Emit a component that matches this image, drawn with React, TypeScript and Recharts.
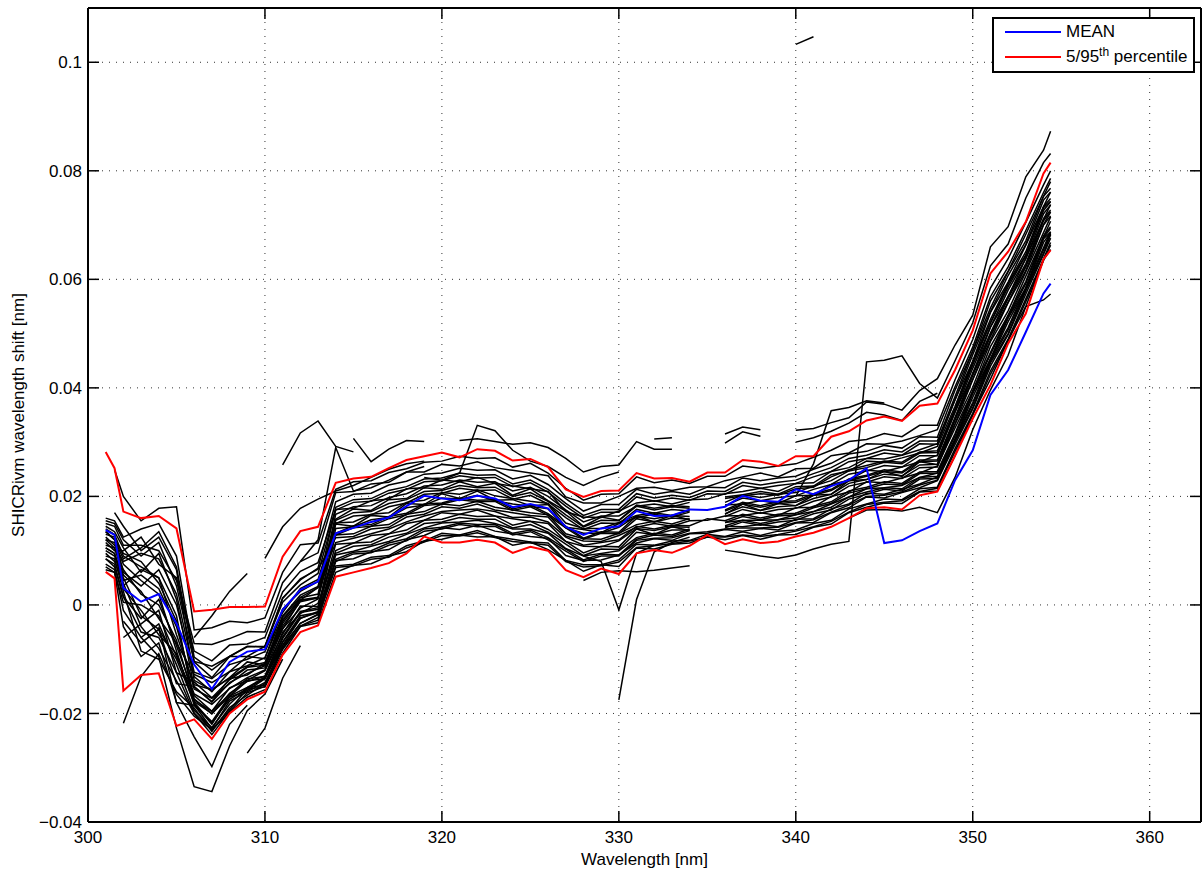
import React from 'react';
import { CartesianGrid, Line, LineChart, XAxis, YAxis } from 'recharts';

// all shifts are in 1e-3 nm, converted to nm when the table is built
const wavelengths = [301, 301.5, 302, 303, 304, 305, 306, 307, 308, 309, 310, 311, 312, 313, 314, 315, 316, 317, 318, 319, 320, 321, 322, 323, 324, 325, 326, 327, 328, 329, 330, 331, 332, 333, 334, 335, 336, 337, 338, 339, 340, 341, 342, 343, 344, 345, 346, 347, 348, 349, 350, 351, 352, 353, 354, 354.4];

const meanShift = [13.8, 12.9, 3.1, 0.6, 2.0, -3.4, -11.0, -15.5, -10.5, -8.6, -8.2, -0.9, 2.8, 4.3, 13.2, 14.2, 15.3, 16.1, 18.2, 20.1, 19.6, 19.3, 20.1, 19.6, 18.0, 18.6, 17.8, 14.4, 12.9, 14.1, 14.5, 17.3, 16.4, 16.5, 17.6, 17.5, 18.1, 20.1, 19.2, 19.0, 21.3, 20.4, 21.9, 23.0, 25.2, 11.4, 11.9, 13.6, 15.0, 23.0, 28.5, 38.7, 43.3, 50.3, 57.4, 59.2];
const p95Shift = [28.2, 25.2, 17.2, 16.0, 16.4, 14.1, -1.2, -0.9, -0.4, -0.4, -0.3, 8.9, 13.6, 14.4, 22.5, 23.3, 23.6, 25.2, 26.7, 27.4, 28.1, 27.2, 28.7, 28.4, 26.6, 26.9, 25.4, 21.3, 19.9, 21.0, 21.1, 24.3, 23.3, 23.4, 22.7, 24.4, 24.4, 26.7, 26.4, 25.6, 27.4, 27.4, 31.0, 32.0, 34.0, 34.7, 33.9, 36.7, 37.1, 43.3, 50.6, 61.1, 65.1, 70.6, 79.5, 81.5];
const p5Shift = [6.1, 4.9, -15.8, -12.9, -12.6, -22.3, -21.1, -24.7, -20.0, -17.4, -16.0, -9.2, -5.0, -3.8, 5.2, 6.0, 6.8, 7.7, 9.5, 12.6, 11.5, 11.5, 12.0, 11.5, 9.6, 10.7, 10.0, 6.4, 5.1, 6.7, 5.7, 9.5, 10.1, 9.6, 10.9, 12.9, 11.2, 12.1, 11.4, 11.7, 12.6, 13.3, 14.4, 16.0, 17.8, 18.0, 17.6, 20.2, 20.9, 27.5, 34.3, 40.5, 48.2, 53.7, 63.7, 65.4];

// individual spectra over the full range
const spec01 = [9.5, 8.0, 4.0, -4.0, -8.0, -14.0, -20.0, -23.9, -19.6, -16.2, -15.0, -8.9, -4.0, -3.3, 6.0, 7.3, 7.6, 9.0, 9.8, 11.8, 12.1, 12.9, 12.5, 12.6, 11.0, 11.6, 10.2, 8.2, 6.2, 7.4, 7.1, 10.5, 10.3, 11.2, 11.4, 12.5, 12.0, 12.8, 12.1, 12.9, 13.0, 14.3, 14.9, 17.0, 18.0, 18.8, 18.7, 20.8, 21.0, 27.5, 35.1, 41.6, 48.8, 55.0, 63.6, 65.5];
const spec02 = [14.0, 13.0, 9.0, 7.0, 5.0, -2.0, -18.2, -22.0, -17.0, -15.8, -13.6, -7.4, -2.5, -1.2, 8.2, 8.5, 9.8, 10.2, 12.0, 12.8, 14.2, 13.9, 14.7, 13.6, 13.1, 12.6, 12.3, 9.1, 8.2, 8.3, 9.2, 11.4, 12.2, 11.9, 13.1, 13.2, 13.9, 13.6, 14.1, 13.8, 15.1, 15.2, 17.0, 17.9, 19.9, 19.7, 20.7, 21.6, 22.9, 29.6, 36.1, 44.0, 49.8, 57.3, 64.6, 67.6];
const spec03 = [11.0, 10.5, 6.5, 2.0, 0.0, -6.5, -17.5, -19.6, -16.5, -13.6, -13.2, -5.0, -1.6, 0.3, 9.5, 10.8, 11.1, 12.5, 13.2, 15.0, 15.3, 16.1, 15.8, 15.8, 14.2, 14.8, 13.4, 11.2, 9.1, 10.3, 10.2, 13.4, 13.0, 13.8, 13.8, null, 14.6, 15.6, 15.0, 15.7, 16.0, 17.2, 18.0, 19.9, 20.8, 21.6, 21.4, 23.5, 23.7, 30.4, 38.3, 45.2, 52.2, 58.3, 66.8, 68.6];
const spec04 = [16.0, 15.5, 12.5, 14.0, 15.0, 9.0, -9.6, -12.0, -9.5, -7.6, -7.8, 1.2, 4.8, 6.6, 12.4, 12.6, 14.0, 14.3, 16.2, 16.7, 18.1, 17.8, 18.6, 17.5, 17.0, 16.5, 16.2, 12.7, 11.8, 11.7, 12.8, 14.3, 15.0, 14.5, 15.5, 15.6, 16.4, 16.5, 17.0, 16.5, 17.9, 18.0, 20.0, 20.8, 22.7, 22.5, 23.4, 24.3, 25.6, 32.6, 39.3, 47.6, 53.3, 60.6, 67.8, 70.7];
const spec05 = [10.0, 9.0, 4.5, 5.5, 3.0, -4.0, -15.5, -17.2, -14.5, -12.0, -11.6, -3.4, 0.9, 1.4, 12.9, 14.2, 14.5, 15.9, 16.6, 18.3, 18.6, 19.4, 19.0, 19.1, 17.4, 18.1, 16.5, 14.2, 12.1, 13.2, 13.1, 15.9, 15.3, 16.0, 15.8, null, 16.8, 18.1, 17.4, 18.1, 18.3, 19.6, 20.4, 22.4, 23.1, 24.1, 23.8, 25.8, 25.9, 33.4, 41.5, 48.8, 55.7, 61.6, 70.0, 71.7];
const spec06 = [7.5, 6.5, -1.0, -6.0, -3.5, -11.0, -19.4, -22.6, -18.3, -15.2, -14.8, -7.8, -3.4, -1.7, 7.2, 7.5, 8.8, 9.1, 10.9, 11.8, 13.2, 12.9, 13.7, 12.6, 12.1, 11.6, 11.4, 8.2, 7.4, 7.4, 8.3, 11.2, 11.0, 11.8, 11.9, 13.0, 12.6, 13.5, 12.8, 13.6, 13.8, 15.0, 15.6, 17.7, 18.6, 19.5, 19.4, 21.4, 21.7, 28.8, 35.3, 43.1, 49.0, 56.4, 63.8, 66.8];
const spec07 = [12.5, 11.0, 8.0, 9.5, 8.5, 2.0, -12.4, -13.6, -11.0, -10.0, -8.6, -1.4, 3.0, 4.7, 15.1, 15.3, 16.7, 17.0, 18.9, 19.3, 20.7, 20.4, 21.2, 20.1, 19.6, 19.1, 18.7, 15.1, 14.1, 14.1, 15.2, 16.5, 17.0, 16.5, 17.4, null, 18.4, 18.6, 19.2, 18.7, 20.1, 20.2, 22.2, 23.0, 24.8, 24.6, 25.4, 26.4, 27.6, 35.6, 42.5, 51.2, 56.8, 63.9, 71.0, 73.8];
const spec08 = [8.5, 7.5, 1.5, -2.5, 1.0, -7.5, -16.4, -18.3, -15.4, -13.4, -12.0, -4.4, -0.6, 1.1, 15.6, 17.0, 17.2, 18.7, 19.4, 20.9, 21.1, 22.0, 21.6, 21.7, 20.0, 20.7, 19.1, 16.6, 14.4, 15.6, 15.5, 18.2, 17.5, 18.1, 17.8, null, 18.9, 20.3, 19.8, 20.4, 20.7, 21.9, 22.9, 24.7, 25.3, 26.3, 26.0, 28.0, 28.1, 36.0, 44.2, 51.9, 58.6, 64.4, 72.7, 74.3];
const spec09 = [15.0, 14.5, 11.0, 11.0, 10.0, 4.5, -8.5, -10.3, -7.4, -7.2, -6.0, 2.4, 6.2, 7.8, 17.6, 17.8, 19.2, 19.5, 21.4, 21.6, 23.0, 22.7, 23.5, 22.4, 21.9, 21.4, 20.9, 17.2, 16.2, 16.1, 17.3, 18.8, 19.2, 18.6, 19.4, 19.5, 20.5, 20.9, 21.5, 20.9, 22.4, 22.5, 24.6, 25.3, 27.0, 26.9, 27.6, 28.6, 29.7, 37.8, 44.9, 53.9, 59.5, 66.3, 73.4, 76.1];
const spec10 = [null, null, 3.0, -1.0, -5.5, -9.0, -17.8, -20.0, -16.8, -14.0, -13.6, -6.2, -1.4, -0.8, 11.2, 11.4, 12.8, 13.1, 15.0, 15.6, 17.0, 16.7, 17.5, 16.4, 15.9, 15.4, 15.0, 11.7, 10.8, 10.7, 11.8, 14.1, 13.7, 14.4, 14.3, null, 15.2, 16.3, 15.7, 16.4, 16.6, 17.9, 18.7, 20.6, 21.4, 22.3, 22.1, 24.2, 24.3, 31.2, 39.1, 46.1, 53.0, 59.2, 67.6, 69.4];
const spec11 = [13.0, 12.5, 6.0, 3.5, 6.5, 0.0, -13.2, -16.0, -12.3, -11.2, -9.7, -2.0, 1.8, 3.4, 18.0, 19.4, 19.6, 21.1, 21.8, 23.2, 23.4, 24.3, 23.9, 24.0, 22.3, 23.0, 21.3, 18.7, 16.5, 17.6, 17.6, 20.5, 19.7, 20.2, 19.8, 21.0, 20.9, 22.6, 22.1, 22.6, 23.0, 24.2, 25.3, 27.0, 27.6, 28.6, 28.2, 30.2, 30.2, 38.4, 46.8, 54.7, 61.4, 67.1, 75.3, 76.8];
const spec12 = [9.0, 8.5, 2.5, -8.5, -10.0, -16.0, -19.0, -23.3, -18.9, -16.6, -14.5, -8.2, -3.9, -2.8, 8.4, 9.7, 10.0, 11.4, 12.2, 14.0, 14.3, 15.1, 14.8, 14.8, 13.2, 13.8, 12.4, 10.3, 8.3, 9.4, 9.2, 12.1, 12.9, 12.6, 13.7, null, 14.5, 14.4, 14.8, 14.4, 15.8, 15.9, 17.7, 18.6, 20.6, 20.4, 21.3, 22.3, 23.6, 30.3, 36.9, 44.9, 50.7, 58.1, 65.4, 68.4];
const spec13 = [11.5, 10.0, 10.0, 12.5, 7.5, 5.0, -7.1, -7.3, -6.2, -4.9, -5.0, 4.1, 8.0, 9.6, 20.7, 20.9, 22.3, 22.6, 24.5, 24.5, 25.9, 25.6, 26.4, 25.3, 24.8, 24.3, 23.8, 19.9, 18.8, 18.8, 20.0, 21.5, 21.7, 21.1, 21.7, 21.8, 22.9, 23.6, 24.3, 23.6, 25.1, 25.2, 27.5, 28.0, 29.7, 29.6, 30.2, 31.2, 32.3, 40.2, 47.5, 56.8, 62.3, 69.0, 76.0, 78.6];
const spec14 = [6.5, 6.0, -4.0, -9.5, -7.0, -18.0, -18.5, -21.5, -16.8, -15.2, -13.3, -6.8, -2.0, -1.4, 14.1, 14.4, 15.7, 16.1, 17.9, 18.4, 19.7, 19.5, 20.2, 19.2, 18.6, 18.2, 17.7, 14.2, 13.2, 13.2, 14.3, 16.4, 15.9, 16.5, 16.3, null, 17.3, 18.6, 18.0, 18.7, 18.9, 20.2, 21.1, 22.9, 23.7, 24.6, 24.3, 26.4, 26.5, 34.2, 42.3, 49.7, 56.5, 62.5, 70.8, 72.5];
const spec15 = [null, 24.9, 20.0, 15.5, 17.8, 18.1, -4.6, -4.2, -3.0, -3.3, -2.4, 6.0, 11.1, 11.4, 21.3, 22.7, 22.9, 24.4, 25.1, 26.3, 26.5, 27.4, 27.0, 27.1, 25.4, 26.1, 24.3, 21.5, 19.3, 20.4, 20.5, 23.6, 22.5, 23.0, 22.4, 23.7, 23.7, 25.6, 25.2, 25.6, 26.0, 27.2, 28.5, 30.1, 30.5, 31.6, 31.0, 33.1, 33.1, 41.5, 48.9, 58.4, 63.8, 70.5, 77.4, 80.0];
const spec16 = [null, null, -6.0, -3.5, -1.0, -12.5, -14.2, -17.1, -13.8, -11.5, -11.1, -3.0, 1.3, 2.0, 16.7, 18.1, 18.3, 19.8, 20.5, 21.9, 22.1, 23.0, 22.6, 22.7, 21.0, 21.7, 20.0, 17.5, 15.3, 16.4, 16.4, 18.2, 18.6, 18.1, 18.9, null, 19.9, 20.3, 20.9, 20.4, 21.8, 21.9, 24.0, 24.7, 26.5, 26.3, 27.1, 28.0, 29.2, 36.6, 44.9, 52.6, 59.3, 65.1, 73.4, 74.9];
const spec17 = [8.5, 7.0, 1.5, -5.0, -6.0, -12.5, -19.9, -23.0, -19.3, -15.5, -15.1, -8.0, -3.9, -2.3, 6.9, 7.2, 8.4, 8.8, 10.5, 11.6, 12.8, 12.7, 13.3, 12.4, 11.7, 11.4, 11.0, 8.0, 7.0, 7.2, 7.9, 10.6, 10.9, 11.3, 11.8, 12.5, 12.5, 12.9, 12.6, 13.0, 13.6, 14.4, 15.4, 17.1, 18.5, 18.9, 19.2, 20.9, 21.5, 28.3, 35.0, 42.5, 48.7, 55.9, 63.5, 66.3];
const spec18 = [12.0, 11.5, 7.5, 4.5, 2.0, -8.5, -18.4, -22.8, -17.7, -16.0, -14.3, -7.5, -3.4, -1.8, 8.0, 9.4, 9.6, 11.0, 11.8, 13.6, 14.0, 14.8, 14.4, 14.5, 12.9, 13.5, 12.0, 9.9, 8.0, 9.0, 9.0, 11.9, 12.3, 12.4, 13.2, 13.5, 14.0, 14.2, 14.2, 14.3, 15.2, 15.7, 17.1, 18.4, 20.0, 20.2, 20.8, 22.1, 23.0, 30.1, 36.3, 44.6, 50.0, 57.9, 64.8, 68.2];
const spec19 = [10.5, 9.5, 5.0, -2.0, -4.5, -10.0, -18.0, -21.7, -17.4, -15.4, -13.5, -6.9, -2.4, -1.4, 9.2, 9.9, 10.8, 11.7, 13.0, 14.2, 15.1, 15.3, 15.6, 15.0, 14.0, 14.0, 13.2, 10.4, 9.0, 9.5, 10.0, 12.4, 13.2, 12.9, 14.0, null, 14.2, 15.3, 14.7, 15.3, 15.6, 16.8, 17.5, 19.5, 20.4, 21.3, 21.0, 23.2, 23.3, 30.6, 37.3, 45.3, 51.1, 58.5, 65.8, 68.8];
const spec20 = [13.5, 12.0, 9.5, 8.0, 4.0, -3.0, -17.3, -20.1, -16.3, -14.1, -13.1, -5.9, -1.2, -0.5, 10.0, 11.4, 11.6, 13.1, 13.8, 15.6, 15.8, 16.7, 16.3, 16.4, 14.7, 15.4, 13.9, 11.7, 9.6, 10.8, 10.7, 14.0, 13.0, 14.4, 13.7, null, 15.2, 15.6, 15.6, 15.7, 16.6, 17.2, 18.6, 19.9, 21.4, 21.6, 22.0, 23.5, 24.3, 30.5, 39.0, 45.3, 52.9, 58.4, 67.5, 68.7];
const spec21 = [null, 17.0, 14.5, 10.0, 12.5, 6.5, -13.9, -15.7, -13.4, -10.5, -11.0, -2.2, 1.4, 3.2, 11.5, 12.3, 13.1, 14.0, 15.3, 16.4, 17.2, 17.5, 17.7, 17.2, 16.1, 16.2, 15.3, 12.5, 11.0, 11.5, 12.0, 14.5, 14.0, 14.7, 14.6, 15.9, 15.5, 16.7, 16.0, 16.7, 16.9, 18.2, 19.0, 21.0, 21.7, 22.7, 22.4, 24.5, 24.6, 31.6, 39.5, 46.5, 53.4, 59.6, 68.0, 69.7];
const spec22 = [12.0, 10.5, 5.5, 2.5, -2.5, -7.0, -12.8, -14.3, -12.3, -9.5, -9.9, -0.8, 2.5, 4.3, 12.9, 13.1, 14.5, 14.8, 16.7, 17.2, 18.6, 18.3, 19.1, 18.0, 17.5, 17.0, 16.6, 13.1, 12.2, 12.1, 13.2, 14.8, 15.4, 14.9, 15.9, null, 16.3, 17.6, 16.9, 17.6, 17.8, 19.1, 19.9, 21.9, 22.6, 23.6, 23.3, 25.3, 25.4, 33.3, 40.1, 48.5, 54.2, 61.4, 68.6, 71.5];
const spec23 = [7.0, 6.0, 0.5, 0.0, -2.0, -9.5, -16.7, -19.6, -15.3, -13.9, -12.1, -5.4, -0.2, -0.3, 13.2, 14.6, 14.8, 16.3, 16.9, 18.6, 18.8, 19.7, 19.3, 19.4, 17.7, 18.4, 16.8, 14.5, 12.3, 13.5, 13.4, 16.4, 15.3, 16.5, 15.7, null, 16.7, 18.6, 17.4, 18.7, 18.3, 20.2, 20.4, 22.9, 23.1, 24.6, 23.7, 26.4, 25.9, 34.1, 41.6, 49.5, 55.8, 62.3, 70.1, 72.4];
const spec24 = [14.5, 13.5, 10.5, 6.0, 9.5, 1.0, -15.1, -17.8, -13.6, -12.9, -10.7, -4.4, 0.8, 1.3, 14.9, 14.5, 16.5, 16.2, 18.7, 18.5, 20.5, 19.6, 21.0, 19.3, 19.4, 18.3, 18.5, 14.3, 13.9, 13.3, 15.0, 16.1, 16.7, 16.2, 17.1, null, 17.5, 18.9, 18.3, 19.0, 19.2, 20.5, 21.3, 23.2, 23.9, 24.9, 24.5, 26.7, 26.7, 34.6, 42.7, 50.1, 56.9, 62.9, 71.2, 72.8];
const spec25 = [10.5, 9.5, 3.5, 6.5, 5.0, -5.5, -14.7, -15.6, -13.5, -11.4, -10.6, -2.6, 0.9, 3.2, 15.0, 16.4, 16.6, 18.1, 18.8, 20.4, 20.6, 21.5, 21.1, 21.2, 19.5, 20.2, 18.6, 16.1, 13.9, 15.1, 15.0, 17.6, 16.9, 17.6, 17.3, null, 18.3, 19.7, 19.2, 19.8, 20.1, 21.3, 22.2, 24.1, 24.7, 25.7, 25.4, 27.5, 27.5, 35.5, 43.6, 51.2, 58.0, 63.8, 72.1, 73.7];
const spec26 = [null, null, -3.0, -7.0, -4.5, -14.5, -15.0, -17.9, -14.3, -12.6, -11.2, -3.9, 0.6, 1.3, 15.8, 17.7, 17.4, 19.4, 19.6, 21.6, 21.3, 22.7, 21.8, 22.4, 20.2, 21.4, 19.2, 17.3, 14.5, 16.2, 15.6, 18.4, 17.8, 18.3, 18.1, null, 19.6, 20.1, 20.5, 20.2, 21.4, 21.7, 23.6, 24.9, 25.7, 26.5, 26.3, 28.2, 28.4, 36.1, 44.7, 52.0, 59.1, 64.5, 73.2, 74.4];
const spec27 = [15.5, 15.0, 12.0, 9.0, 11.5, 3.5, -10.5, -13.4, -9.5, -9.5, -7.6, 0.5, 3.7, 5.8, 17.5, 18.9, 19.1, 20.6, 21.3, 22.7, 22.9, 23.8, 23.4, 23.5, 21.8, 22.5, 20.8, 18.2, 16.0, 17.1, 17.1, 19.9, 19.1, 19.7, 19.3, 20.5, 20.4, 22.0, 21.5, 22.0, 22.4, 23.6, 24.6, 26.4, 27.0, 28.0, 27.6, 29.7, 29.6, 37.8, 46.1, 54.0, 60.7, 66.4, 74.6, 76.1];
const spec28 = [13.5, 12.0, 8.5, 10.5, 13.5, 7.0, -10.4, -11.3, -9.5, -7.7, -7.6, 1.3, 4.6, 6.8, 19.0, 20.4, 20.6, 22.1, 22.8, 24.1, 24.3, 25.2, 24.8, 24.9, 23.2, 23.9, 22.2, 19.6, 17.3, 18.5, 18.5, 21.3, 20.4, 20.9, 20.4, 21.7, 21.6, 23.4, 22.9, 23.4, 23.7, 25.0, 26.1, 27.8, 28.3, 29.4, 28.9, 31.0, 30.9, 39.6, 46.8, 56.0, 61.5, 68.3, 75.3, 78.0];

// partial spectra: first wavelength, then values on consecutive grid points
const frag302 = { from: 302, values: [-21.8, -13.2, -9.0, -16.5, -20.5, -23.0, -19.8, -17.0, -15.6] };
const frag303 = { from: 303, values: [-6.0, -9.5, -22.7, -33.5, -34.4, -26.0, -19.5, -16.4, -10.0] };
const frag304 = { from: 304, values: [-4.0, -18.0, -24.3, -29.8, -22.0, -18.5] };
const frag309 = { from: 309, values: [-27.3, -22.7, -13.5, -7.5] };
const frag306 = { from: 306, values: [-6.0, -2.0, 2.5, 5.8] };
const frag310 = { from: 310, values: [8.6, 14.4, 17.8, 19.5, 21.0, 22.0, 23.5, 25.0, 26.0, 26.5] };
const frag311 = { from: 311, values: [25.8, 31.7, 33.9, 29.2, 28.2] };
const frag312 = { from: 312, values: [8.0, 12.0, 29.0, 21.0, 21.6, 23.0, 24.5, 25.5] };
const frag315 = { from: 315, values: [30.7, 26.4, 28.7, 30.3, 30.1, null, 30.3, 30.6, 30.1, 29.6, 29.9, 29.0, 27.0, 24.5, 25.5, 25.8, 30.1, 28.7, 28.7] };
const frag319 = { from: 319, values: [23.5, 23.0, 24.3, 33.1, 32.1, 28.5, 26.5, 25.5, 23.5, 22.0, 23.5, 24.5] };
const frag328a = { from: 328, values: [4.5, 6.0, 6.3, 6.1, 6.4, 6.8, 7.2] };
const frag328b = { from: 328, values: [9.0, 8.0, -0.9, 9.5, 11.0] };
const frag330 = { from: 330, values: [-17.5, 1.0, 9.8, 11.5, 12.5] };
const frag332 = { from: 332, values: [30.6, 30.8] };
const frag336a = { from: 336, values: [31.5, 32.8, 32.3, null, 32.2, 32.5, 33.6, 34.5, 37.4, 37.0, 35.9, 39.5, 41.7, 47.9, 53.4, 66.0, 69.7, 78.9, 83.8, 87.3] };
const frag336b = { from: 336, values: [29.8, 31.9, 31.1, null, 30.0, 30.8, 32.0, 33.5, 35.5, 35.0, 34.0, 37.5, 39.0] };
const frag336c = { from: 336, values: [10.1, 9.6, 9.0, 8.6, 9.2, 10.3, 11.2, 11.7, 44.8, 45.1, 45.9, 40.8, 38.1, 45.0, 52.0, 62.5, 66.5, 75.0, 81.5, 83.2] };
const frag340 = { from: 340, values: [20.0, 26.0, 35.8, 36.4, 37.6, 37.2] };
const frag343 = { from: 343, values: [16.0, 17.5, 17.6, 17.3, 18.0, 17.0, 23.5, 32.3, 39.6, 46.0, 55.0, 56.2, 57.3] };
const fragTop = { from: 340, values: [103.3, 104.7] };

const xTicks = [300, 310, 320, 330, 340, 350, 360];
const yTicks = [-0.04, -0.02, 0, 0.02, 0.04, 0.06, 0.08, 0.1];

const fullSpectra = [spec01, spec02, spec03, spec04, spec05, spec06, spec07, spec08, spec09, spec10, spec11, spec12, spec13, spec14, spec15, spec16, spec17, spec18, spec19, spec20, spec21, spec22, spec23, spec24, spec25, spec26, spec27, spec28];
const partSpectra = [frag302, frag303, frag304, frag309, frag306, frag310, frag311, frag312, frag315, frag319, frag328a, frag328b, frag330, frag332, frag336a, frag336b, frag336c, frag340, frag343, fragTop];

const toNm = (v: number | null | undefined) => (v == null ? null : v / 1000);

const data = wavelengths.map((w, i) => {
  const row: Record<string, number | null> = { w };
  fullSpectra.forEach((s, k) => {
    row[`s${k}`] = toNm(s[i]);
  });
  partSpectra.forEach((p, k) => {
    const j = i - wavelengths.indexOf(p.from);
    row[`p${k}`] = j >= 0 && j < p.values.length ? toNm(p.values[j]) : null;
  });
  row.mean = toNm(meanShift[i]);
  row.hi = toNm(p95Shift[i]);
  row.lo = toNm(p5Shift[i]);
  return row;
});

const FONT = "'Liberation Sans', Arial, Helvetica, sans-serif";
const TICK_LEN = 11;
const fmtY = (v: number) => (v === 0 ? '0' : String(Math.round(v * 100) / 100).replace('-', '\u2212'));
const X_DOMAIN: [number, number] = [300, 362.9];
const Y_DOMAIN: [number, number] = [-0.04, 0.11];

// matlab style: labels outside, tick marks pointing into the box
const BottomTick = (props: any) => {
  const { x, y, payload } = props;
  return (
    <g>
      <line x1={x} x2={x} y1={y - 9} y2={y - 9 - TICK_LEN} stroke="#000" strokeWidth={1.5} />
      <text x={x} y={y} dy="0.71em" textAnchor="middle" fill="#000" fontSize={17} fontFamily={FONT}>
        {payload.value}
      </text>
    </g>
  );
};

const LeftTick = (props: any) => {
  const { x, y, payload } = props;
  return (
    <g>
      <line x1={x + 6} x2={x + 6 + TICK_LEN} y1={y} y2={y} stroke="#000" strokeWidth={1.5} />
      <text x={x} y={y} dy="0.355em" textAnchor="end" fill="#000" fontSize={17} fontFamily={FONT}>
        {fmtY(payload.value)}
      </text>
    </g>
  );
};

const TopTick = (props: any) => {
  const { x, y } = props;
  return <line x1={x} x2={x} y1={y} y2={y + TICK_LEN} stroke="#000" strokeWidth={1.5} />;
};

const RightTick = (props: any) => {
  const { x, y } = props;
  return <line x1={x - TICK_LEN} x2={x} y1={y} y2={y} stroke="#000" strokeWidth={1.5} />;
};

const App = () => {
  return (
    <div style={{ position: 'absolute', left: 0, top: 0, width: 1202, height: 877, background: '#fff' }}>
      <LineChart width={1202} height={877} data={data} margin={{ top: 8, right: 1, bottom: 0, left: 8 }}>
        <CartesianGrid xAxisId="x" yAxisId="y" stroke="#333" strokeDasharray="1 6" />
        <XAxis
          xAxisId="x"
          dataKey="w"
          type="number"
          domain={X_DOMAIN}
          ticks={xTicks}
          interval={0}
          allowDataOverflow
          height={55}
          tickSize={0}
          tickMargin={9}
          tickLine={false}
          axisLine={{ stroke: '#000', strokeWidth: 2 }}
          tick={<BottomTick />}
          label={{ value: 'Wavelength [nm]', position: 'insideBottom', offset: 12, fill: '#000', fontSize: 17, fontFamily: FONT }}
        />
        <XAxis xAxisId="xt" orientation="top" dataKey="w" type="number" domain={X_DOMAIN} ticks={xTicks} interval={0} allowDataOverflow mirror tick={<TopTick />} tickSize={0} tickMargin={0} tickLine={false} axisLine={{ stroke: '#000', strokeWidth: 2 }} />
        <YAxis
          yAxisId="y"
          type="number"
          domain={Y_DOMAIN}
          ticks={yTicks}
          interval={0}
          allowDataOverflow
          width={80}
          tickSize={0}
          tickMargin={6}
          tickLine={false}
          axisLine={{ stroke: '#000', strokeWidth: 2 }}
          tick={<LeftTick />}
          label={{ value: 'SHICRivm wavelength shift [nm]', angle: -90, position: 'insideLeft', offset: 10, fill: '#000', fontSize: 17, fontFamily: FONT, style: { textAnchor: 'middle' } }}
        />
        <YAxis yAxisId="yr" orientation="right" type="number" domain={Y_DOMAIN} ticks={yTicks} interval={0} allowDataOverflow mirror tick={<RightTick />} tickSize={0} tickMargin={0} tickLine={false} axisLine={{ stroke: '#000', strokeWidth: 2 }} />

        {fullSpectra.map((_, k) => (
          <Line key={`s${k}`} xAxisId="x" yAxisId="y" dataKey={`s${k}`} type="linear" stroke="#000" strokeWidth={1.5} dot={false} activeDot={false} isAnimationActive={false} />
        ))}
        {partSpectra.map((_, k) => (
          <Line key={`p${k}`} xAxisId="x" yAxisId="y" dataKey={`p${k}`} type="linear" stroke="#000" strokeWidth={1.5} dot={false} activeDot={false} isAnimationActive={false} />
        ))}
        <Line xAxisId="x" yAxisId="y" dataKey="hi" type="linear" stroke="#ff0000" strokeWidth={2} dot={false} activeDot={false} isAnimationActive={false} />
        <Line xAxisId="x" yAxisId="y" dataKey="lo" type="linear" stroke="#ff0000" strokeWidth={2} dot={false} activeDot={false} isAnimationActive={false} />
        <Line xAxisId="x" yAxisId="y" dataKey="mean" type="linear" stroke="#0000ff" strokeWidth={2} dot={false} activeDot={false} isAnimationActive={false} />
      </LineChart>

      <div
        style={{
          position: 'absolute',
          left: 992,
          top: 17,
          width: 203,
          height: 56,
          boxSizing: 'border-box',
          border: '2px solid #000',
          background: '#fff',
          fontFamily: FONT,
          fontSize: 17,
          color: '#000',
          whiteSpace: 'nowrap',
        }}
      >
        <svg width={60} height={50} style={{ position: 'absolute', left: 9, top: 0, overflow: 'visible' }}>
          <line x1={2} x2={58} y1={13} y2={13} stroke="#0000ff" strokeWidth={2} />
          <line x1={2} x2={58} y1={38} y2={38} stroke="#ff0000" strokeWidth={2} />
        </svg>
        <div style={{ position: 'absolute', left: 72, top: 3, lineHeight: '20px' }}>MEAN</div>
        <div style={{ position: 'absolute', left: 72, top: 28, lineHeight: '20px' }}>
          5/95<sup style={{ fontSize: 12, verticalAlign: 'top', position: 'relative', top: -5 }}>th</sup> percentile
        </div>
      </div>
    </div>
  );
};

export default App;
